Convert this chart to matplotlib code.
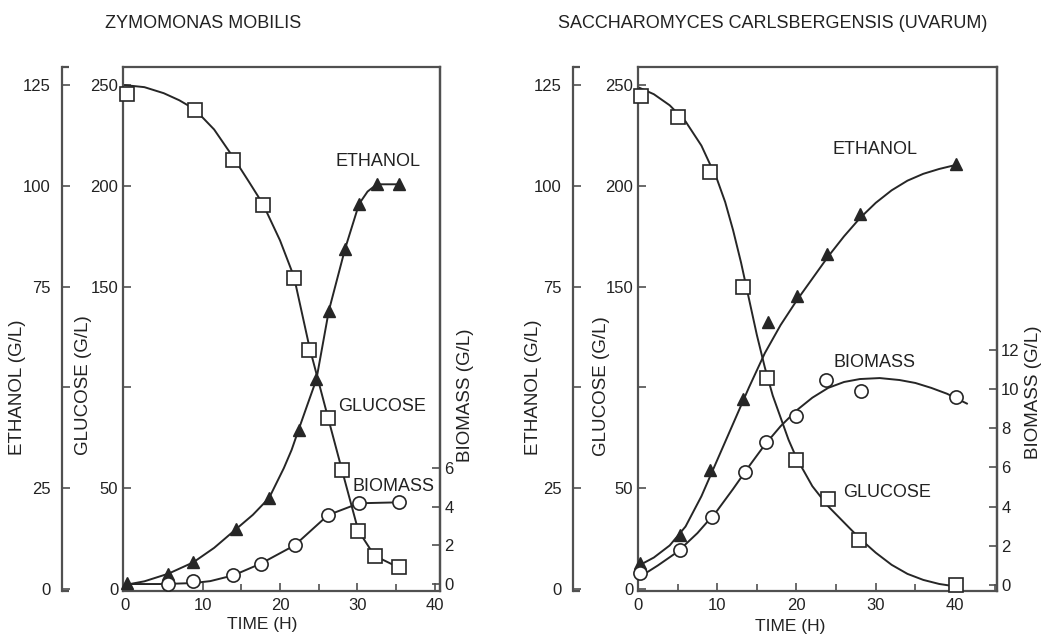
import matplotlib
matplotlib.use('Agg')
import matplotlib.pyplot as plt
from matplotlib.ticker import MultipleLocator

plt.rcParams['font.family'] = ['Liberation Sans', 'DejaVu Sans']

# ---------------- data: Zymomonas mobilis (left) ----------------
zm_glu_t = [0.2, 9.0, 14.0, 17.8, 21.8, 23.8, 26.2, 28.0, 30.1, 32.2, 35.3]
zm_glu = [245.5, 237.5, 213.0, 190.7, 154.5, 118.8, 84.8, 59.0, 28.6, 16.4, 10.7]
zm_eth_t = [0.2, 5.6, 8.8, 14.3, 18.6, 22.4, 24.7, 26.3, 28.4, 30.2, 32.5, 35.4]
zm_eth = [1.5, 3.8, 6.6, 14.8, 22.6, 39.5, 52.0, 69.0, 84.4, 95.5, 100.4, 100.4]
zm_bio_t = [5.6, 8.8, 14.0, 17.5, 21.9, 26.2, 30.2, 35.4]
zm_bio = [0.0, 0.15, 0.45, 1.05, 2.0, 3.56, 4.17, 4.22]

# fitted curves as drawn in the figure
zm_glu_curve_t = [0, 2.5, 5, 7, 9, 11.5, 14, 16, 17.8, 20, 21.8, 23.8, 26.2, 28, 30.1, 32.2, 35.3]
zm_glu_curve = [250, 249, 246, 242.5, 238, 228, 214, 202, 191, 173, 155, 120, 85, 59, 29, 16.5, 10.7]
zm_eth_curve_t = [0, 2.5, 5.6, 8.8, 11.5, 14.3, 16.5, 18.6, 20.5, 21.5, 22.4, 23.5, 24.7, 26.3, 28.4,
                  30.2, 31.3, 32.5, 35.4]
zm_eth_curve = [1.0, 1.9, 3.8, 6.6, 10.2, 14.8, 18.4, 22.6, 30.0, 34.5, 39.5, 45.5, 52.0, 69.0, 84.4,
                95.5, 98.6, 100.4, 100.4]
zm_bio_curve_t = [0, 5, 8.8, 11, 14, 17.5, 21.9, 26.2, 30.2, 35.4]
zm_bio_curve = [0.0, 0.0, 0.05, 0.15, 0.45, 1.05, 2.0, 3.56, 4.17, 4.22]

# ---------------- data: Saccharomyces carlsbergensis (right) ----------------
sc_glu_t = [0.4, 5.05, 9.05, 13.2, 16.3, 20.0, 24.0, 27.9, 40.1]
sc_glu = [244.7, 234.0, 207.0, 150.0, 104.9, 64.2, 44.7, 24.3, 2.2]
sc_eth_t = [0.3, 5.3, 9.05, 13.3, 16.4, 20.1, 23.9, 28.0, 40.1]
sc_eth = [6.4, 13.5, 29.4, 47.1, 66.2, 72.6, 83.2, 93.0, 105.4]
sc_bio_t = [0.3, 5.3, 9.4, 13.5, 16.2, 20.0, 23.7, 28.2, 40.1]
sc_bio = [0.6, 1.8, 3.45, 5.76, 7.27, 8.64, 10.45, 9.87, 9.58]

sc_glu_curve_t = [0, 2, 4, 6, 8, 10, 11, 12, 13, 14, 15, 16, 17, 18, 19, 20, 22, 24, 26, 28,
                  30, 32, 34, 36, 38, 40]
sc_glu_curve = [249, 245.5, 240, 232, 220, 203, 192, 178, 162, 144, 126, 110, 96, 85, 74, 65,
                51, 41, 33, 25, 18, 12, 7.5, 4.5, 2.5, 1.3]
sc_eth_curve_t = [0, 2, 4, 6, 8, 10, 12, 14, 16, 18, 20, 22, 24, 26, 28, 30, 32, 34, 36, 38, 40.3]
sc_eth_curve = [5.7, 7.8, 10.8, 15.5, 23.0, 32.0, 41.0, 50.0, 58.5, 65.5, 71.5, 77.0, 82.5, 87.5,
                92.0, 95.8, 98.9, 101.3, 103.0, 104.2, 105.3]
sc_bio_curve_t = [0, 2.5, 5, 7.5, 10, 12, 14, 16, 18, 20, 22, 24, 26, 28, 30.5, 33, 35, 37, 39,
                  40.5, 41.5]
sc_bio_curve = [0.36, 1.0, 1.7, 2.65, 3.8, 4.9, 6.05, 7.15, 8.1, 8.9, 9.55, 10.05, 10.35, 10.5,
                10.55, 10.45, 10.3, 10.05, 9.75, 9.45, 9.25]

# tick labels
glu_ticks = [0, 50, 100, 150, 200, 250]
glu_labels = ['0', '50', '', '150', '200', '250']
eth_ticks = [0, 25, 50, 75, 100, 125]
eth_labels = ['0', '25', '', '75', '100', '125']
time_ticks = [0, 10, 20, 30, 40]
zm_bio_ticks = [0, 2, 4, 6]
sc_bio_ticks = [0, 2, 4, 6, 8, 10, 12]

W, H = 1045, 638
fig = plt.figure(figsize=(W / 100, H / 100), dpi=100)

TXT = '#222222'
LINE = '#262626'
SPINE = '#505050'


def px_rect(l, t, r, b):
    return [l / W, 1 - b / H, (r - l) / W, (b - t) / H]


def panel(rect_px, xlim, glu_ylim, eth_off_px, bio_ylim, bio_ticks,
          glu_t, glu, eth_t, eth, bio_t, bio,
          gct, gc, ect, ec, bct, bc):
    l, t, r, b = rect_px
    ax = fig.add_axes(px_rect(l, t, r, b))
    ax.set_xlim(*xlim)
    ax.set_ylim(*glu_ylim)
    for s in ax.spines.values():
        s.set_color(SPINE)
        s.set_linewidth(1.6)
    ax.set_xticks(time_ticks)
    ax.xaxis.set_minor_locator(MultipleLocator(5))
    ax.set_yticks(glu_ticks)
    ax.set_yticklabels(glu_labels)
    ax.tick_params(axis='both', which='major', direction='in', length=6, width=1.2,
                   color=SPINE, labelsize=12, labelcolor=TXT)
    ax.tick_params(axis='x', which='both', pad=5)
    ax.tick_params(axis='x', which='minor', direction='in', length=5, width=1.2, color=SPINE)
    ax.tick_params(axis='y', right=False)

    # ethanol axis (offset to the left)
    axe = ax.twinx()
    axe.set_ylim(glu_ylim[0] / 2, glu_ylim[1] / 2)
    for k in ['right', 'top', 'bottom']:
        axe.spines[k].set_visible(False)
    frac = -eth_off_px / (r - l)
    axe.spines['left'].set_visible(True)
    axe.spines['left'].set_position(('axes', frac))
    axe.spines['left'].set_color(SPINE)
    axe.spines['left'].set_linewidth(1.6)
    axe.yaxis.set_ticks_position('left')
    axe.set_yticks(eth_ticks)
    axe.set_yticklabels(eth_labels)
    axe.tick_params(axis='y', direction='in', length=6, width=1.2, color=SPINE,
                    labelsize=12, labelcolor=TXT, pad=8)
    cap = 7 / (r - l)
    for yy in (0, 1):
        axe.plot([frac, frac + cap], [yy, yy], transform=ax.transAxes, color=SPINE,
                 lw=1.6, clip_on=False, solid_capstyle='butt')

    # biomass axis (right)
    axb = ax.twinx()
    axb.set_ylim(*bio_ylim)
    for k in ['left', 'top', 'bottom']:
        axb.spines[k].set_visible(False)
    axb.spines['right'].set_color(SPINE)
    axb.spines['right'].set_linewidth(1.6)
    axb.set_yticks(bio_ticks)
    axb.tick_params(axis='y', direction='in', length=6, width=1.2, color=SPINE,
                    labelsize=12, labelcolor=TXT, pad=3)

    # curves
    ax.plot(gct, gc, color=LINE, lw=1.4, zorder=2)
    axe.plot(ect, ec, color=LINE, lw=1.4, zorder=2)
    axb.plot(bct, bc, color=LINE, lw=1.4, zorder=2)
    # markers
    ax.plot(glu_t, glu, ls='none', marker='s', ms=9.5, mfc='white', mec=LINE, mew=1.2,
            zorder=3, clip_on=False)
    axe.plot(eth_t, eth, ls='none', marker='^', ms=9, mfc=LINE, mec=LINE, mew=1.0,
             zorder=3, clip_on=False)
    axb.plot(bio_t, bio, ls='none', marker='o', ms=9.5, mfc='white', mec=LINE, mew=1.2,
             zorder=3, clip_on=False)
    return ax


axL = panel((123, 67, 440, 591), (-0.26, 40.65), (-1, 259), 61, (-0.36, 26.7), zm_bio_ticks,
            zm_glu_t, zm_glu, zm_eth_t, zm_eth, zm_bio_t, zm_bio,
            zm_glu_curve_t, zm_glu_curve, zm_eth_curve_t, zm_eth_curve,
            zm_bio_curve_t, zm_bio_curve)
axR = panel((638, 67, 997, 591), (0, 45.3), (-1, 259), 65, (-0.3, 26.4), sc_bio_ticks,
            sc_glu_t, sc_glu, sc_eth_t, sc_eth, sc_bio_t, sc_bio,
            sc_glu_curve_t, sc_glu_curve, sc_eth_curve_t, sc_eth_curve,
            sc_bio_curve_t, sc_bio_curve)


def ftext(x, y, s, **kw):
    kw.setdefault('color', TXT)
    fig.text(x / W, 1 - y / H, s, **kw)


# titles
ftext(203, 23, 'ZYMOMONAS MOBILIS', ha='center', va='center', fontsize=13)
ftext(773, 23, 'SACCHAROMYCES CARLSBERGENSIS (UVARUM)', ha='center', va='center', fontsize=13)

# axis labels
for x, y, s in [(18, 387, 'ETHANOL (G/L)'), (84, 385, 'GLUCOSE (G/L)'),
                (465, 395, 'BIOMASS (G/L)'),
                (533, 387, 'ETHANOL (G/L)'), (601, 386, 'GLUCOSE (G/L)'),
                (1034, 392, 'BIOMASS (G/L)')]:
    ftext(x, y, s, ha='center', va='center', rotation=90, fontsize=13.5)
ftext(262, 624, 'TIME (H)', ha='center', va='center', fontsize=12.5)
ftext(790, 627, 'TIME (H)', ha='center', va='center', fontsize=12.5)

# curve labels (in data coordinates)
lab = dict(ha='center', va='center', fontsize=13, color=TXT)
axL.text(32.6, 212, 'ETHANOL', **lab)
axL.text(33.2, 90.5, 'GLUCOSE', **lab)
axL.text(34.6, 51, 'BIOMASS', **lab)
axR.text(29.9, 218, 'ETHANOL', **lab)
axR.text(29.9, 112.5, 'BIOMASS', **lab)
axR.text(31.4, 48, 'GLUCOSE', **lab)

fig.savefig('out.png', dpi=100)
